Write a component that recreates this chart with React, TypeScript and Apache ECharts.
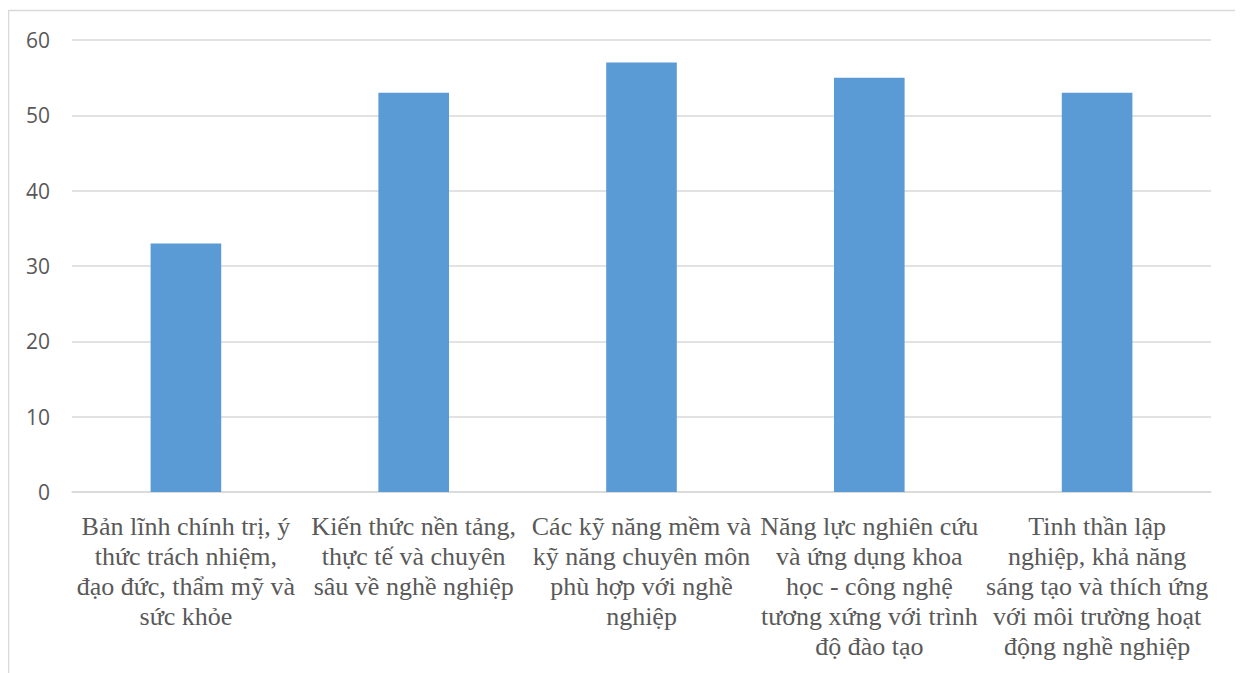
import React, { useEffect, useRef } from "react";
import * as echarts from "echarts";

const categories: string[] = [
  "Bản lĩnh chính trị, ý\nthức trách nhiệm,\nđạo đức, thẩm mỹ và\nsức khỏe",
  "Kiến thức nền tảng,\nthực tế và chuyên\nsâu về nghề nghiệp",
  "Các kỹ năng mềm và\nkỹ năng chuyên môn\nphù hợp với nghề\nnghiệp",
  "Năng lực nghiên cứu\nvà ứng dụng khoa\nhọc - công nghệ\ntương xứng với trình\nđộ đào tạo",
  "Tinh thần lập\nnghiệp, khả năng\nsáng tạo và thích ứng\nvới môi trường hoạt\nđộng nghề nghiệp",
];
const values: number[] = [33, 53, 57, 55, 53];
const yTicks: number[] = [0, 10, 20, 30, 40, 50, 60];

export default function App() {
  const ref = useRef<HTMLDivElement>(null);
  useEffect(() => {
    if (!ref.current) return;
    const chart = echarts.init(ref.current, undefined, { renderer: "svg" });
    chart.setOption({
      animation: false,
      backgroundColor: "#ffffff",
      graphic: [
        {
          type: "rect",
          shape: { x: 0.5, y: 2.5, width: 1231, height: 700 },
          style: { fill: "none", stroke: "#d9d9d9", lineWidth: 1.5 },
          silent: true,
        },
      ],
      grid: { left: 64, right: 32, top: 32, bottom: 181, containLabel: false },
      xAxis: {
        type: "category",
        data: categories,
        axisLine: { show: true, lineStyle: { color: "#d9d9d9", width: 1.5 } },
        axisTick: { show: false },
        axisLabel: {
          interval: 0,
          color: "#595959",
          fontFamily: "Liberation Serif, serif",
          fontSize: 26,
          lineHeight: 30,
          margin: 19,
          align: "center",
        },
      },
      yAxis: {
        type: "value",
        min: yTicks[0],
        max: yTicks[yTicks.length - 1],
        interval: 10,
        axisLine: { show: false },
        axisTick: { show: false },
        splitLine: { lineStyle: { color: "#d9d9d9", width: 1.5 } },
        axisLabel: {
          color: "#595959",
          fontFamily: "Open Sans",
          fontSize: 21,
          margin: 22,
        },
      },
      series: [
        {
          type: "bar",
          data: values,
          barWidth: "31%",
          itemStyle: { color: "#5b9bd5" },
        },
      ],
    });
    return () => chart.dispose();
  }, []);
  return <div ref={ref} style={{ width: 1235, height: 665 }} />;
}
